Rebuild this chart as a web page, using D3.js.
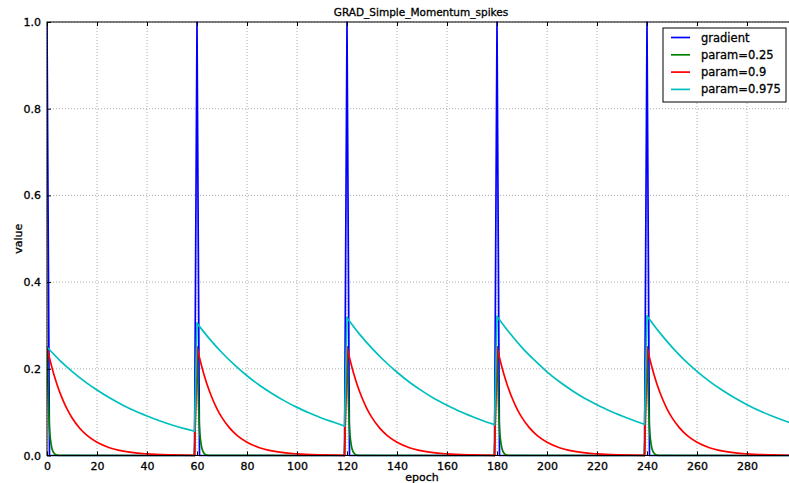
<!DOCTYPE html>
<html>
<head>
<meta charset="utf-8">
<script src="https://cdn.jsdelivr.net/npm/d3@7"></script>
<style>
  html, body { margin: 0; padding: 0; background: #fff; overflow: hidden; }
  svg { display: block; }
  text { font-family: "DejaVu Sans", sans-serif; fill: #000; stroke: #000; stroke-width: 0.3px; }
</style>
</head>
<body>
<svg id="chart" width="789" height="483"></svg>
<script>
// ---- data ----
const title = "GRAD_Simple_Momentum_spikes";
const xLabel = "epoch";
const yLabel = "value";
const xTicks = [0, 20, 40, 60, 80, 100, 120, 140, 160, 180, 200, 220, 240, 260, 280];
const yTicks = [0.0, 0.2, 0.4, 0.6, 0.8, 1.0];
const seriesNames = ["gradient", "param=0.25", "param=0.9", "param=0.975"];
const seriesColors = ["#0000ff", "#008000", "#ff0000", "#00bfbf"];

// spike positions (epochs) and last epoch
const spikeEpochs = [0, 60, 120, 180, 240];
const lastEpoch = 299;

// gradient: [epoch, value] points
const gradientPts = [
  [0, 1], [1, 0], [59, 0], [60, 1], [61, 0], [119, 0], [120, 1], [121, 0],
  [179, 0], [180, 1], [181, 0], [239, 0], [240, 1], [241, 0], [299, 0]
];

// param=0.25 : offsets after each spike and values per segment
const greenOffsets = [0, 1, 2, 3, 4, 5, 59];
const greenSegments = [
  [0.25, 0.0625, 0.0156, 0.0039, 0.001, 0.0002, 0],
  [0.25, 0.0625, 0.0156, 0.0039, 0.001, 0.0002, 0],
  [0.25, 0.0625, 0.0156, 0.0039, 0.001, 0.0002, 0],
  [0.25, 0.0625, 0.0156, 0.0039, 0.001, 0.0002, 0],
  [0.25, 0.0625, 0.0156, 0.0039, 0.001, 0.0002, 0]
];

// param=0.9
const redOffsets = [0, 1, 2, 3, 4, 6, 8, 10, 13, 16, 20, 25, 30, 40, 50, 59];
const redSegments = [
  [0.250, 0.225, 0.2025, 0.182, 0.164, 0.133, 0.1076, 0.0872, 0.0635, 0.0463, 0.0304, 0.018, 0.0106, 0.0037, 0.0013, 0.0005],
  [0.2505, 0.2255, 0.203, 0.1826, 0.1643, 0.1331, 0.1078, 0.0873, 0.0637, 0.0464, 0.0305, 0.018, 0.0106, 0.0037, 0.0013, 0.0005],
  [0.2505, 0.2255, 0.203, 0.1826, 0.1643, 0.1331, 0.1078, 0.0873, 0.0637, 0.0464, 0.0305, 0.018, 0.0106, 0.0037, 0.0013, 0.0005],
  [0.2505, 0.2255, 0.203, 0.1826, 0.1643, 0.1331, 0.1078, 0.0873, 0.0637, 0.0464, 0.0305, 0.018, 0.0106, 0.0037, 0.0013, 0.0005],
  [0.2505, 0.2255, 0.203, 0.1826, 0.1643, 0.1331, 0.1078, 0.0873, 0.0637, 0.0464, 0.0305, 0.018, 0.0106, 0.0037, 0.0013, 0.0005]
];

// param=0.975
const cyanOffsets = [0, 5, 10, 15, 20, 25, 30, 35, 40, 45, 50, 55, 59];
const cyanSegments = [
  [0.250, 0.220, 0.194, 0.171, 0.151, 0.133, 0.117, 0.103, 0.091, 0.080, 0.0705, 0.062, 0.056],
  [0.305, 0.269, 0.237, 0.209, 0.184, 0.162, 0.143, 0.126, 0.111, 0.098, 0.086, 0.076, 0.068],
  [0.318, 0.280, 0.247, 0.218, 0.192, 0.169, 0.149, 0.131, 0.116, 0.102, 0.090, 0.079, 0.071],
  [0.321, 0.283, 0.249, 0.220, 0.193, 0.170, 0.150, 0.132, 0.117, 0.103, 0.091, 0.080, 0.072],
  [0.322, 0.284, 0.250, 0.220, 0.194, 0.171, 0.151, 0.133, 0.117, 0.103, 0.091, 0.080, 0.072]
];

// ---- build point lists from the tables (one list per decay segment) ----
function segLists(offsets, segments) {
  return segments.map((vals, si) =>
    offsets.map((o, i) => [spikeEpochs[si] + o, vals[i]]).filter(p => p[0] <= lastEpoch));
}
const decaySeries = [
  null,
  segLists(greenOffsets, greenSegments),
  segLists(redOffsets, redSegments),
  segLists(cyanOffsets, cyanSegments)
];

// ---- layout ----
const svg = d3.select("#chart");
const m = { left: 47, top: 22, right: 797, bottom: 455.5 };
const x = d3.scaleLinear().domain([0, 300]).range([m.left, m.right]);
const y = d3.scaleLinear().domain([0, 1]).range([m.bottom, m.top]);

const fontSize = 11;

// grid
const grid = svg.append("g");
grid.selectAll("line.gx").data(xTicks).join("line")
  .attr("x1", d => x(d)).attr("x2", d => x(d))
  .attr("y1", m.top).attr("y2", m.bottom)
  .attr("stroke", "#9a9a9a").attr("stroke-width", 0.8).attr("stroke-dasharray", "1,2");
grid.selectAll("line.gy").data(yTicks).join("line")
  .attr("x1", m.left).attr("x2", m.right)
  .attr("y1", d => y(d)).attr("y2", d => y(d))
  .attr("stroke", "#9a9a9a").attr("stroke-width", 0.8).attr("stroke-dasharray", "1,2");

// clip for lines
svg.append("clipPath").attr("id", "plotclip").append("rect")
  .attr("x", m.left).attr("y", m.top - 2).attr("width", m.right - m.left).attr("height", m.bottom - m.top + 4);

const lineLin = d3.line().x(d => x(d[0])).y(d => y(d[1]));
const lineSmooth = d3.line().x(d => x(d[0])).y(d => y(d[1])).curve(d3.curveMonotoneX);
const lines = svg.append("g").attr("clip-path", "url(#plotclip)");
const lw = 1.7;

// gradient
lines.append("path").datum(gradientPts).attr("d", lineLin)
  .attr("fill", "none").attr("stroke", seriesColors[0]).attr("stroke-width", lw)
  .attr("stroke-linejoin", "round");

// momentum series: smooth decay segments joined by straight rises
for (let s = 1; s < 4; s++) {
  const segs = decaySeries[s];
  const g = lines.append("g");
  segs.forEach((pts, k) => {
    g.append("path").datum(pts).attr("d", lineSmooth)
      .attr("fill", "none").attr("stroke", seriesColors[s]).attr("stroke-width", lw)
      .attr("stroke-linecap", "round");
    if (k + 1 < segs.length) {
      const a = pts[pts.length - 1], b = segs[k + 1][0];
      g.append("path").datum([a, b]).attr("d", lineLin)
        .attr("fill", "none").attr("stroke", seriesColors[s]).attr("stroke-width", lw)
        .attr("stroke-linecap", "round");
    }
  });
}

// frame
svg.append("rect").attr("x", m.left).attr("y", m.top)
  .attr("width", m.right - m.left).attr("height", m.bottom - m.top)
  .attr("fill", "none").attr("stroke", "#000").attr("stroke-width", 1);

// axes with inward ticks
const xAxisB = d3.axisBottom(x).tickValues(xTicks).tickFormat(d3.format("d")).tickSizeInner(-4).tickSizeOuter(0).tickPadding(7);
const xAxisT = d3.axisTop(x).tickValues(xTicks).tickFormat("").tickSizeInner(-4).tickSizeOuter(0);
const yAxisL = d3.axisLeft(y).tickValues(yTicks).tickFormat(d3.format(".1f")).tickSizeInner(-4).tickSizeOuter(0).tickPadding(6);
const yAxisR = d3.axisRight(y).tickValues(yTicks).tickFormat("").tickSizeInner(-4).tickSizeOuter(0);

function style(g) {
  g.select(".domain").remove();
  g.selectAll("line").attr("stroke", "#000");
  g.selectAll("text").attr("font-size", fontSize).attr("font-family", "DejaVu Sans, sans-serif");
}
svg.append("g").attr("transform", `translate(0,${m.bottom})`).call(xAxisB).call(style);
svg.append("g").attr("transform", `translate(0,${m.top})`).call(xAxisT).call(style);
svg.append("g").attr("transform", `translate(${m.left},0)`).call(yAxisL).call(style);
svg.append("g").attr("transform", `translate(${m.right},0)`).call(yAxisR).call(style);

// title & labels
svg.append("text").attr("x", (m.left + m.right) / 2 - 1).attr("y", 16)
  .attr("text-anchor", "middle").attr("font-size", 10.5).text(title);
svg.append("text").attr("x", (m.left + m.right) / 2).attr("y", 481)
  .attr("text-anchor", "middle").attr("font-size", fontSize).text(xLabel);
svg.append("text").attr("transform", `translate(22,${(m.top + m.bottom) / 2}) rotate(-90)`)
  .attr("text-anchor", "middle").attr("font-size", fontSize).text(yLabel);

// legend
const lg = svg.append("g");
lg.append("rect").attr("x", 663).attr("y", 28).attr("width", 123).attr("height", 74)
  .attr("fill", "#fff").attr("stroke", "#000").attr("stroke-width", 1);
seriesNames.forEach((n, i) => {
  const yy = 37.5 + i * 17.3;
  lg.append("line").attr("x1", 671).attr("x2", 690).attr("y1", yy).attr("y2", yy)
    .attr("stroke", seriesColors[i]).attr("stroke-width", lw);
  lg.append("text").attr("x", 701).attr("y", yy + 4).attr("font-size", 11.5).text(n);
});
</script>
</body>
</html>
